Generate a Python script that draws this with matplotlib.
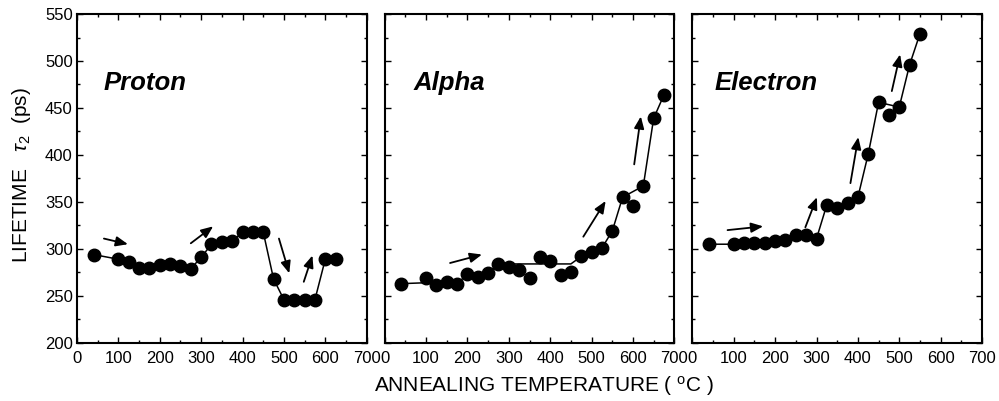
import matplotlib
matplotlib.use("Agg")
import matplotlib.pyplot as plt
from matplotlib.ticker import MultipleLocator

plt.rcParams['font.family'] = ['Liberation Sans', 'DejaVu Sans']
plt.rcParams['mathtext.fontset'] = 'custom'
plt.rcParams['mathtext.rm'] = 'Liberation Sans'
plt.rcParams['mathtext.it'] = 'Liberation Sans:italic'

# annealing temperatures (C) and lifetimes tau2 (ps)
proton_t = [40, 100, 125, 150, 175, 200, 225, 250, 275, 300, 325, 350, 375,
            400, 425, 450, 475, 500, 525, 550, 575, 600, 625]
proton_v = [294, 289, 286, 280, 280, 283, 284, 282, 279, 291, 305, 307, 308,
            318, 318, 318, 268, 246, 246, 246, 246, 289, 289]
proton_line_t = proton_t
proton_line_v = proton_v

alpha_t = [40, 100, 125, 150, 175, 200, 225, 250, 275, 300, 325, 350, 375,
           400, 425, 450, 475, 500, 525, 550, 575, 600, 625, 650, 675]
alpha_v = [263, 269, 262, 265, 263, 273, 270, 274, 284, 281, 278, 269, 291,
           287, 272, 275, 292, 297, 301, 319, 355, 346, 367, 439, 464]
alpha_line_t = [40, 100, 125, 150, 175, 200, 225, 250, 275, 450, 475, 500,
                525, 550, 575, 625, 650, 675]
alpha_line_v = [263, 264, 262, 265, 263, 273, 270, 274, 284, 284, 292, 297,
                301, 319, 355, 367, 439, 464]

electron_t = [40, 100, 125, 150, 175, 200, 225, 250, 275, 300, 325, 350, 375,
              400, 425, 450, 475, 500, 525, 550]
electron_v = [305, 305, 306, 306, 306, 308, 310, 315, 315, 311, 347, 344, 349,
              355, 401, 456, 443, 451, 496, 529]
electron_line_t = [40, 100, 125, 150, 175, 200, 225, 250, 275, 300, 325, 350,
                   375, 400, 425, 450, 500, 525, 550]
electron_line_v = [305, 305, 306, 306, 306, 308, 310, 315, 315, 311, 347, 344,
                   349, 355, 401, 456, 451, 496, 529]

# arrows: (tail T, tail v, head T, head v)
proton_arrows = [(65, 311, 123, 305), (275, 306, 329, 324),
                 (488, 311, 513, 274), (548, 265, 569, 293)]
alpha_arrows = [(158, 285, 235, 294), (480, 313, 534, 351),
                (603, 390, 619, 441)]
electron_arrows = [(85, 320, 171, 324), (273, 323, 301, 355),
                   (382, 370, 401, 419), (482, 468, 502, 507)]

panels = [
    ("Proton", proton_t, proton_v, proton_line_t, proton_line_v, proton_arrows, 0.09),
    ("Alpha", alpha_t, alpha_v, alpha_line_t, alpha_line_v, alpha_arrows, 0.10),
    ("Electron", electron_t, electron_v, electron_line_t, electron_line_v, electron_arrows, 0.076),
]

fig = plt.figure(figsize=(9.99, 4.01), dpi=100)
axes = fig.subplots(1, 3, sharey=True)
fig.subplots_adjust(left=0.0771, right=0.983, bottom=0.145, top=0.965, wspace=0.0623)

for ax, (name, t, v, lt, lv, arrows, lx) in zip(axes, panels):
    ax.plot(lt, lv, color='black', lw=1.1, zorder=2)
    ax.plot(t, v, 'o', color='black', ms=9, zorder=3)
    for (x0, y0, x1, y1) in arrows:
        ax.annotate('', xy=(x1, y1), xytext=(x0, y0),
                    arrowprops=dict(arrowstyle='-|>,head_length=0.6,head_width=0.25',
                                    color='black', lw=1.3,
                                    mutation_scale=12, shrinkA=0, shrinkB=0))
    ax.text(lx, 0.79, name, transform=ax.transAxes, fontsize=18.5,
            fontweight='bold', fontstyle='italic', va='center', ha='left')

    ax.set_xlim(0, 700)
    ax.set_ylim(200, 550)
    ax.xaxis.set_major_locator(MultipleLocator(100))
    ax.xaxis.set_minor_locator(MultipleLocator(50))
    ax.yaxis.set_major_locator(MultipleLocator(50))
    ax.yaxis.set_minor_locator(MultipleLocator(25))
    ax.tick_params(which='both', direction='in', top=True, right=True,
                   width=1.0, labelsize=12)
    ax.tick_params(which='major', length=4.5)
    ax.tick_params(which='minor', length=2.5)
    ax.tick_params(axis='x', pad=6)
    ax.tick_params(axis='y', pad=3)
    for s in ax.spines.values():
        s.set_linewidth(1.5)

fig.text(0.545, 0.037, "ANNEALING TEMPERATURE ( $^{\\mathregular{o}}$C )",
         ha='center', va='center', fontsize=15)
fig.text(0.022, 0.564, "LIFETIME   $\\tau_2$  (ps)", rotation=90,
         ha='center', va='center', fontsize=15)

fig.savefig("out.png", dpi=100)
